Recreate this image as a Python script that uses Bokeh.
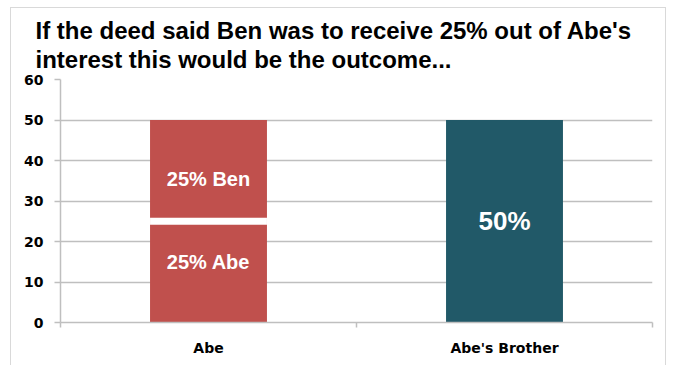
from bokeh.plotting import figure
from bokeh.models import Range1d, FixedTicker, Title, ColumnDataSource
from bokeh.core.properties import value
from bokeh.embed import file_html
from bokeh.resources import INLINE

# ---- data ----
title_lines = ["If the deed said Ben was to receive 25% out of Abe's",
               "interest this would be the outcome..."]
categories = ["Abe", "Abe's Brother"]
abe_values = [25, 0]        # Abe's remaining share
ben_values = [25, 0]        # Ben's share out of Abe's interest
brother_values = [0, 50]    # Abe's brother's share
abe_labels = ["25% Abe", ""]
ben_labels = ["25% Ben", ""]
brother_labels = ["", "50%"]
y_ticks = [0, 10, 20, 30, 40, 50, 60]

RED = "#C0504D"
TEAL = "#215968"
GRID = "#BFBFBF"
FRAME = "#D9D9D9"
BAR_W = 0.395

xs = [i + 0.5 for i in range(len(categories))]

p = figure(width=656, height=358, x_range=Range1d(0, len(categories)),
           y_range=Range1d(0, 60), output_backend="svg", toolbar_location=None,
           min_border_left=49, min_border_right=15, min_border_top=71,
           min_border_bottom=44)
p.outline_line_color = None
p.styles = {"margin-left": "10px", "margin-top": "7px",
            "border-top": f"1px solid {FRAME}", "border-left": f"1px solid {FRAME}",
            "border-right": f"1px solid {FRAME}"}

# title
p.title.visible = False
p.add_layout(Title(text="\n".join(title_lines), align="left", offset=-25, standoff=12,
                   text_font_size="24px", text_font="Liberation Sans",
                   text_font_style="bold", text_color="#000000",
                   text_line_height=1.08), "above")

# stacked bars
ben_bottom = abe_values
ben_top = [a + b for a, b in zip(abe_values, ben_values)]

src_abe = ColumnDataSource(dict(x=xs, bottom=[0] * len(xs), top=abe_values))
src_ben = ColumnDataSource(dict(x=xs, bottom=ben_bottom, top=ben_top))
src_bro = ColumnDataSource(dict(x=xs, bottom=[0] * len(xs), top=brother_values))

p.vbar(x="x", bottom="bottom", top="top", width=BAR_W, source=src_abe,
       fill_color=RED, line_color=None)
p.vbar(x="x", bottom="bottom", top="top", width=BAR_W, source=src_ben,
       fill_color=RED, line_color=None)
p.vbar(x="x", bottom="bottom", top="top", width=BAR_W, source=src_bro,
       fill_color=TEAL, line_color=None)

# white gap between stacked segments
gap_x = [x for x, b in zip(xs, ben_values) if b > 0]
gap_y = [a for a, b in zip(abe_values, ben_values) if b > 0]
p.segment(x0=[x - BAR_W / 2 for x in gap_x], x1=[x + BAR_W / 2 for x in gap_x],
          y0=gap_y, y1=gap_y, line_color="white", line_width=7)

# segment labels
lab_x, lab_y, lab_t, lab_s = [], [], [], []
for x, a, b, c, la, lb, lc in zip(xs, abe_values, ben_values, brother_values,
                                   abe_labels, ben_labels, brother_labels):
    if la:
        lab_x.append(x); lab_y.append(a / 2 + 2.5); lab_t.append(la); lab_s.append("20px")
    if lb:
        lab_x.append(x); lab_y.append(a + b / 2 - 2); lab_t.append(lb); lab_s.append("20px")
    if lc:
        lab_x.append(x); lab_y.append(c / 2); lab_t.append(lc); lab_s.append("26px")
p.text(x=lab_x, y=lab_y, text=lab_t, text_font_size=lab_s,
       text_align="center", text_baseline="middle", text_color="white",
       text_font=value("Liberation Sans"), text_font_style="bold")

# y axis
p.yaxis.ticker = FixedTicker(ticks=y_ticks)
p.yaxis.axis_line_color = GRID
p.yaxis.major_tick_line_color = GRID
p.yaxis.major_tick_out = 6
p.yaxis.major_tick_in = 0
p.yaxis.minor_tick_line_color = None
p.yaxis.major_label_standoff = 11
p.yaxis.major_label_text_font = "DejaVu Sans"
p.yaxis.major_label_text_font_style = "bold"
p.yaxis.major_label_text_font_size = "14px"
p.yaxis.major_label_text_color = "#000000"
p.yaxis.axis_line_width = 1.5
p.yaxis.major_tick_line_width = 1.5

p.ygrid.ticker = FixedTicker(ticks=y_ticks)
p.ygrid.grid_line_color = GRID
p.ygrid.grid_line_width = 1.5
p.xgrid.visible = False

# x axis
p.xaxis.ticker = FixedTicker(ticks=xs, minor_ticks=list(range(len(categories) + 1)))
p.xaxis.major_label_overrides = {x: c for x, c in zip(xs, categories)}
p.xaxis.axis_line_color = GRID
p.xaxis.axis_line_width = 1.5
p.xaxis.major_tick_out = 0
p.xaxis.major_tick_in = 0
p.xaxis.minor_tick_out = 5
p.xaxis.minor_tick_in = 0
p.xaxis.minor_tick_line_color = GRID
p.xaxis.minor_tick_line_width = 1.5
p.xaxis.major_label_standoff = 12
p.xaxis.major_label_text_font = "DejaVu Sans"
p.xaxis.major_label_text_font_style = "bold"
p.xaxis.major_label_text_font_size = "14px"
p.xaxis.major_label_text_color = "#000000"

open("out.html", "w").write(file_html(p, INLINE))
